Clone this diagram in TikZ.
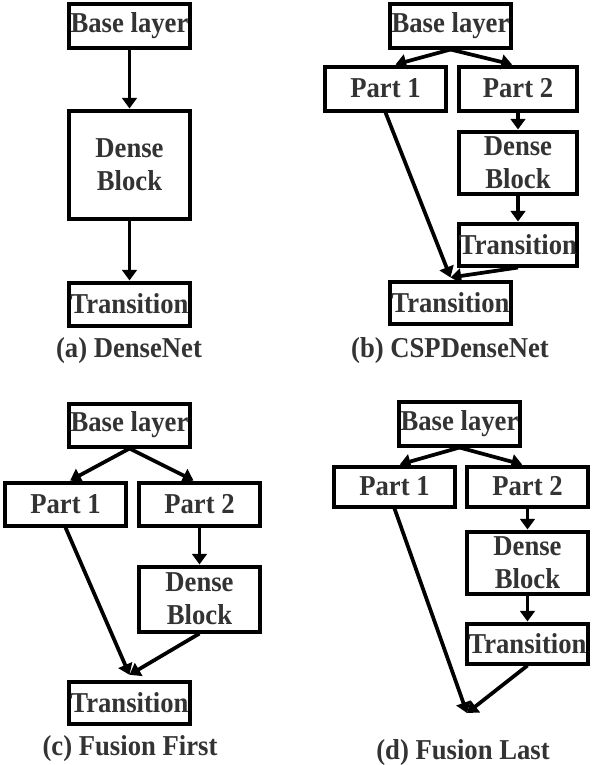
\documentclass[tikz,border=0pt]{standalone}
\usepackage{fontspec}
\usepackage{graphicx}
\setmainfont{Liberation Serif}
\usetikzlibrary{arrows.meta,calc}
\newcommand{\tall}[1]{\scalebox{1}[1.08]{#1}}
\begin{document}
\begin{tikzpicture}[x=0.75pt,y=-0.75pt,
  box/.style={draw=black,line width=3pt,inner sep=0pt,minimum width=91pt,
    text=black!80,font=\fontsize{20}{25}\selectfont\bfseries,align=center},
  arr/.style={line width=2.8pt,-{Triangle[width=11pt,length=8pt]}},
  captext/.style={text=black!80,font=\fontsize{20}{24}\selectfont\bfseries,inner sep=0pt}]
\useasboundingbox[fill=white] (0,0) rectangle (597,765);

% (a) DenseNet
\node[box,minimum height=33pt] (aBase) at (129.5,25.5) {\tall{Base layer}};
\node[box,minimum height=81pt] (aDense) at (129.5,164.5) {\tall{Dense}\\\tall{Block}};
\node[box,minimum height=32.25pt] (aTr) at (129.5,304) {\tall{Transition}};
\node[captext] (aCap) at (129,351) {\tall{(a) DenseNet}};
\draw[arr] (aBase.south) -- (aDense.north);
\draw[arr] (aDense.south) -- (aTr.north);

% (b) CSPDenseNet
\node[box,minimum height=33pt] (bBase) at (450.5,25.5) {\tall{Base layer}};
\node[box,minimum height=33pt] (bP1) at (385.5,88.5) {\tall{Part 1}};
\node[box,minimum height=33pt,minimum width=89pt] (bP2) at (518,88.5) {\tall{Part 2}};
\node[box,minimum height=46.5pt,minimum width=88pt] (bDense) at (518,162.5) {\tall{Dense}\\\tall{Block}};
\node[box,minimum height=31.5pt,minimum width=89pt] (bTr) at (518,244.5) {\tall{Transition}};
\node[box,minimum height=31.5pt] (bTrF) at (450.5,302.5) {\tall{Transition}};
\node[captext] (bCap) at (450,351) {\tall{(b) CSPDenseNet}};
\draw[arr] (bBase.south) -- ([xshift=7.5pt]bP1.north);
\draw[arr] (bBase.south) -- ([xshift=-4.5pt]bP2.north);
\draw[arr] (bP2.south) -- (bDense.north);
\draw[arr] (bDense.south) -- (bTr.north);
\draw[arr] (bP1.south) -- ([yshift=1.5pt]bTrF.north);
\draw[arr] (bTr.south) -- ([yshift=1.5pt]bTrF.north);

% (c) Fusion First
\node[box,minimum height=32.25pt] (cBase) at (129.5,425) {\tall{Base layer}};
\node[box,minimum height=32.25pt] (cP1) at (65.5,504) {\tall{Part 1}};
\node[box,minimum height=32.25pt] (cP2) at (199.5,504) {\tall{Part 2}};
\node[box,minimum height=48.75pt] (cDense) at (199.5,599) {\tall{Dense}\\\tall{Block}};
\node[box,minimum height=31.5pt] (cTr) at (129.5,702.5) {\tall{Transition}};
\node[captext] (cCap) at (130,749) {\tall{(c) Fusion First}};
\draw[arr] (cBase.south) -- ([xshift=3.5pt]cP1.north);
\draw[arr] (cBase.south) -- ([xshift=-4.5pt]cP2.north);
\draw[arr] (cP2.south) -- (cDense.north);
\draw[arr] (cP1.south) -- ([yshift=3.5pt]cTr.north);
\draw[arr] (cDense.south) -- ([yshift=3.5pt]cTr.north);

% (d) Fusion Last
\node[box,minimum height=33pt] (dBase) at (459.5,423.5) {\tall{Base layer}};
\node[box,minimum height=30pt] (dP1) at (394.5,486.5) {\tall{Part 1}};
\node[box,minimum height=30pt] (dP2) at (527.5,486.5) {\tall{Part 2}};
\node[box,minimum height=46.5pt] (dDense) at (527.5,562.5) {\tall{Dense}\\\tall{Block}};
\node[box,minimum height=30pt] (dTr) at (527.5,643.5) {\tall{Transition}};
\coordinate (dEnd) at (467,713);
\node[captext] (dCap) at (463,753) {\tall{(d) Fusion Last}};
\draw[arr] (dBase.south) -- ([xshift=4pt]dP1.north);
\draw[arr] (dBase.south) -- ([xshift=-4pt]dP2.north);
\draw[arr] (dP2.south) -- (dDense.north);
\draw[arr] (dDense.south) -- (dTr.north);
\draw[arr] (dP1.south) -- (dEnd);
\draw[arr] (dTr.south) -- (dEnd);
\end{tikzpicture}
\end{document}
